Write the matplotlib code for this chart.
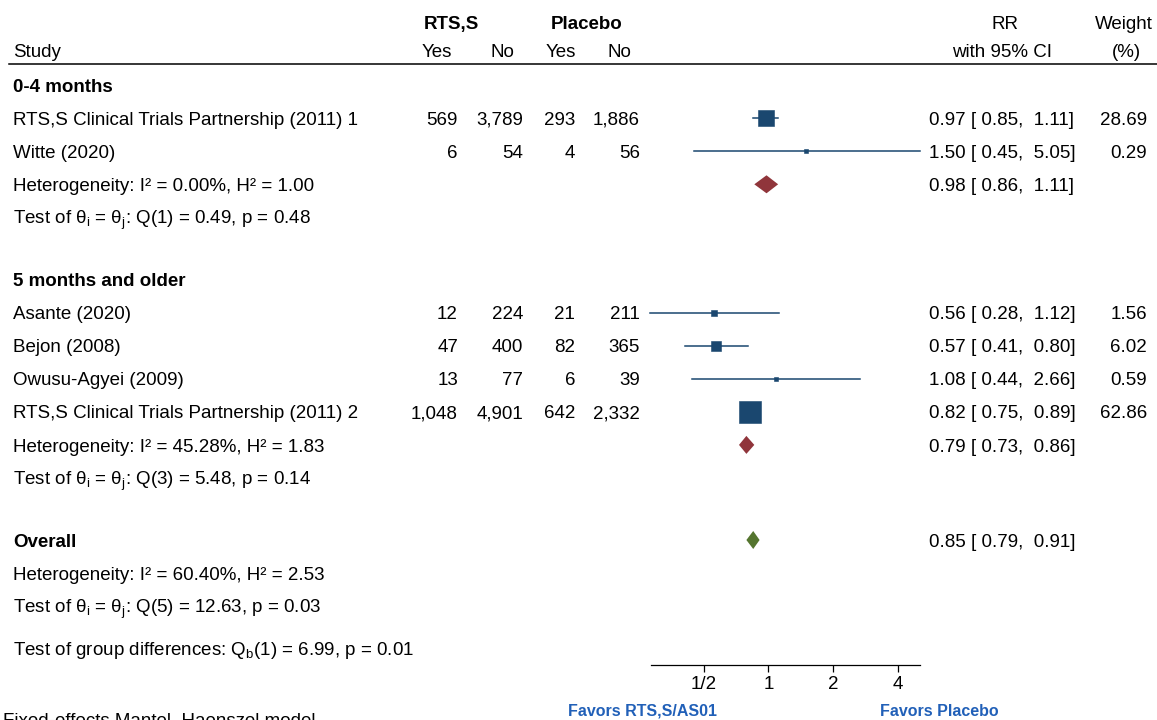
import matplotlib.pyplot as plt
import numpy as np

plt.rcParams['font.family'] = ['Liberation Sans', 'DejaVu Sans']
plt.rcParams['font.size'] = 13.5

# study level data, by subgroup
group_names = ['0-4 months', '5 months and older']
study_group = [0, 0, 1, 1, 1, 1]
studies = ['RTS,S Clinical Trials Partnership (2011) 1', 'Witte (2020)',
           'Asante (2020)', 'Bejon (2008)', 'Owusu-Agyei (2009)',
           'RTS,S Clinical Trials Partnership (2011) 2']
rts_yes = [569, 6, 12, 47, 13, 1048]
rts_no = [3789, 54, 224, 400, 77, 4901]
pla_yes = [293, 4, 21, 82, 6, 642]
pla_no = [1886, 56, 211, 365, 39, 2332]
rr = [0.97, 1.50, 0.56, 0.57, 1.08, 0.82]
rr_lo = [0.85, 0.45, 0.28, 0.41, 0.44, 0.75]
rr_hi = [1.11, 5.05, 1.12, 0.80, 2.66, 0.89]
weight = [28.69, 0.29, 1.56, 6.02, 0.59, 62.86]

# subgroup summaries
group_rr = [0.98, 0.79]
group_lo = [0.86, 0.73]
group_hi = [1.11, 0.86]
group_i2 = [0.00, 45.28]
group_h2 = [1.00, 1.83]
group_df = [1, 3]
group_q = [0.49, 5.48]
group_p = [0.48, 0.14]

# overall
overall_rr, overall_lo, overall_hi = 0.85, 0.79, 0.91
overall_i2, overall_h2 = 60.40, 2.53
overall_df, overall_q, overall_p = 5, 12.63, 0.03
qb_df, qb, qb_p = 1, 6.99, 0.01

axis_ticks = [0.5, 1, 2, 4]
axis_ticklabels = ['1/2', '1', '2', '4']

SQ_COL = '#1a476f'
GRP_COL = '#90353b'
ALL_COL = '#55752f'
FAV_COL = '#2160b8'

W, H = 1157, 720
AXIS_Y = 665
fig = plt.figure(figsize=(W / 100, H / 100), dpi=100)

# text layer in pixel coordinates
ax = fig.add_axes([0, 0, 1, 1])
ax.set_xlim(0, W)
ax.set_ylim(H, 0)
ax.axis('off')

# forest panel on a log scale
x0, x1 = 651, 920
fx = fig.add_axes([x0 / W, (H - AXIS_Y) / H, (x1 - x0) / W, AXIS_Y / H])
fx.set_xscale('log')
fx.set_xlim(0.2845, 5.07)
fx.set_ylim(AXIS_Y, 0)
fx.patch.set_alpha(0)
for s in ['left', 'right', 'top']:
    fx.spines[s].set_visible(False)
fx.spines['bottom'].set_linewidth(0.9)
fx.set_yticks([])
fx.set_xticks(axis_ticks)
fx.set_xticklabels(axis_ticklabels)
fx.minorticks_off()
fx.tick_params(axis='x', length=5, width=0.9, pad=3, labelsize=13.5)

# columns
C_STUDY = 13
C_NUM = [458, 523, 575, 640]
C_RR = 929
C_W = 1147

TEST_FMT = r'Test of θ$_\mathregular{{i}}$ = θ$_\mathregular{{j}}$: Q({}) = {:.2f}, p = {:.2f}'
HET_FMT = 'Heterogeneity: I² = {:.2f}%, H² = {:.2f}'


def txt(x, y, s, ha='left', **kw):
    # y is the visual middle of the capitals, placed via the baseline
    ax.text(x, y + 6.6, s, ha=ha, va='baseline', **kw)


def rr_text(v, lo, hi):
    return '{:.2f} [ {:.2f},  {:.2f}]'.format(v, lo, hi)


def diamond(y, v, lo, hi, col, h=9):
    fx.fill([lo, v, hi, v], [y, y - h, y, y + h], color=col, lw=0, clip_on=False)


# header
txt(451, 22, 'RTS,S', ha='center', fontweight='bold')
txt(587, 22, 'Placebo', ha='center', fontweight='bold')
txt(C_STUDY, 50, 'Study')
for xh, lab in zip([452, 514, 576, 631], ['Yes', 'No', 'Yes', 'No']):
    txt(xh, 50, lab, ha='right')
txt(1005, 22, 'RR', ha='center')
txt(1002, 50, 'with 95% CI', ha='center')
txt(1124, 22, 'Weight', ha='center')
txt(1126, 50, '(%)', ha='center')
ax.plot([9, W], [64, 64], color='black', lw=1.1)

step = 33.1
y = 85
for g, gname in enumerate(group_names):
    txt(C_STUDY, y, gname, fontweight='bold')
    y += step
    for i in [k for k, sg in enumerate(study_group) if sg == g]:
        txt(C_STUDY, y, studies[i])
        for xc, val in zip(C_NUM, [rts_yes[i], rts_no[i], pla_yes[i], pla_no[i]]):
            txt(xc, y, '{:,}'.format(val), ha='right')
        txt(C_RR, y, rr_text(rr[i], rr_lo[i], rr_hi[i]))
        txt(C_W, y, '{:.2f}'.format(weight[i]), ha='right')
        fx.plot([rr_lo[i], rr_hi[i]], [y, y], color=SQ_COL, lw=1.1, clip_on=False)
        side = 4.9 * weight[i] ** 0.37
        fx.plot([rr[i]], [y], marker='s', ms=side * 0.72, color=SQ_COL,
                mec=SQ_COL, mew=0.4, clip_on=False)
        y += step
    txt(C_STUDY, y, HET_FMT.format(group_i2[g], group_h2[g]))
    txt(C_RR, y, rr_text(group_rr[g], group_lo[g], group_hi[g]))
    diamond(y, group_rr[g], group_lo[g], group_hi[g], GRP_COL)
    y += step
    txt(C_STUDY, y, TEST_FMT.format(group_df[g], group_q[g], group_p[g]))
    y += 62

# overall
txt(C_STUDY, y, 'Overall', fontweight='bold')
txt(C_RR, y, rr_text(overall_rr, overall_lo, overall_hi))
diamond(y, overall_rr, overall_lo, overall_hi, ALL_COL)
y += step
txt(C_STUDY, y, HET_FMT.format(overall_i2, overall_h2))
y += step
txt(C_STUDY, y, TEST_FMT.format(overall_df, overall_q, overall_p))
y += 42
txt(C_STUDY, y, r'Test of group differences: Q$_\mathregular{{b}}$({}) = {:.2f}, p = {:.2f}'
    .format(qb_df, qb, qb_p))

# favours labels and footnote
ax.text(642, 711, 'Favors RTS,S/AS01', ha='center', va='center', fontweight='bold',
        color=FAV_COL, fontsize=11.5)
ax.text(939, 711, 'Favors Placebo', ha='center', va='center', fontweight='bold',
        color=FAV_COL, fontsize=11.5)
ax.text(3, 726, 'Fixed-effects Mantel–Haenszel model', ha='left', va='baseline', clip_on=False)

fig.savefig('out.png', dpi=100)
